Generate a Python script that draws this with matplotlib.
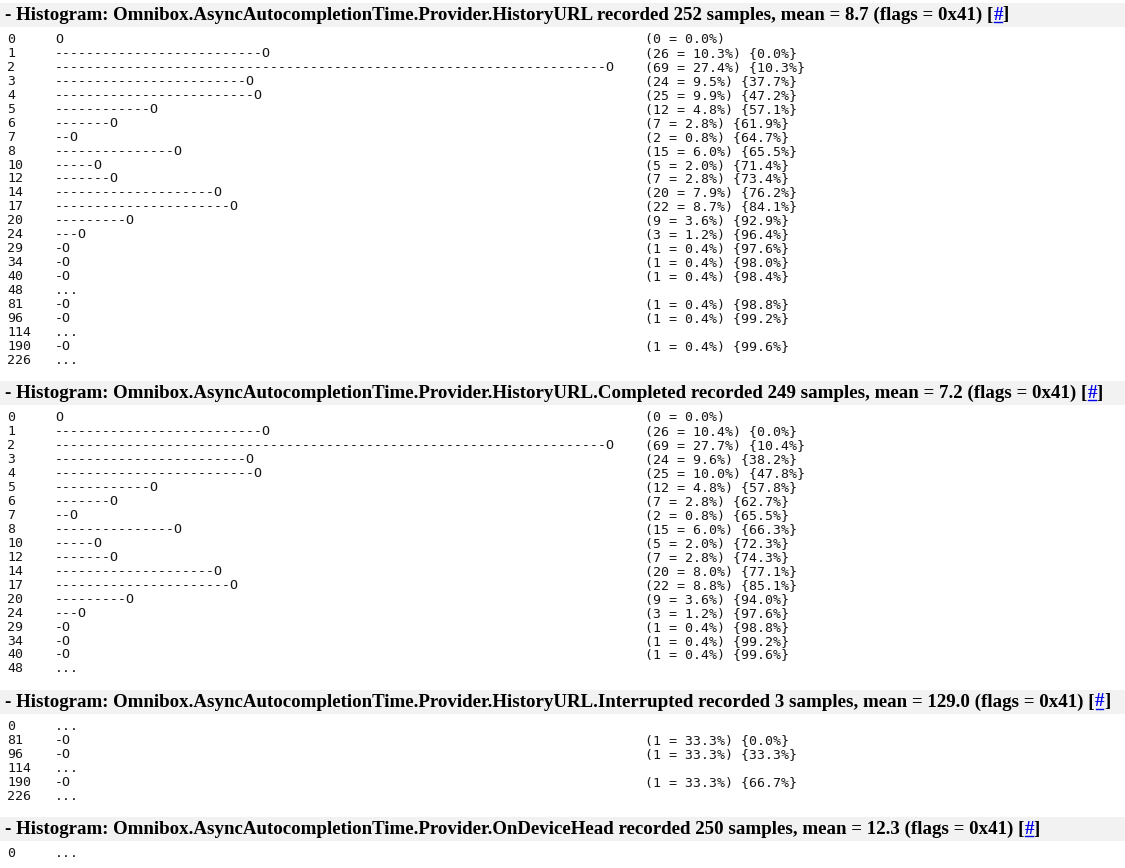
import matplotlib
matplotlib.use("Agg")
import matplotlib.pyplot as plt
from matplotlib.patches import Rectangle

# histogram data as shown on the page (None = "..." row, empty buckets skipped)
h1_name = "Omnibox.AsyncAutocompletionTime.Provider.HistoryURL"
h1_samples = 252
h1_mean = "8.7"
h1_labels = [0, 1, 2, 3, 4, 5, 6, 7, 8, 10, 12, 14, 17, 20, 24, 29, 34, 40, 48, 81, 96, 114, 190, 226]
h1_counts = [0, 26, 69, 24, 25, 12, 7, 2, 15, 5, 7, 20, 22, 9, 3, 1, 1, 1, None, 1, 1, None, 1, None]

h2_name = "Omnibox.AsyncAutocompletionTime.Provider.HistoryURL.Completed"
h2_samples = 249
h2_mean = "7.2"
h2_labels = [0, 1, 2, 3, 4, 5, 6, 7, 8, 10, 12, 14, 17, 20, 24, 29, 34, 40, 48]
h2_counts = [0, 26, 69, 24, 25, 12, 7, 2, 15, 5, 7, 20, 22, 9, 3, 1, 1, 1, None]

h3_name = "Omnibox.AsyncAutocompletionTime.Provider.HistoryURL.Interrupted"
h3_samples = 3
h3_mean = "129.0"
h3_labels = [0, 81, 96, 114, 190, 226]
h3_counts = [None, 1, 1, None, 1, None]

h4_name = "Omnibox.AsyncAutocompletionTime.Provider.OnDeviceHead"
h4_samples = 250
h4_mean = "12.3"
h4_labels = [0]
h4_counts = [None]

W, H = 1125, 868
LINE_LEN = 72
cw = 7.97          # width of one monospace column, px
x0 = 7             # left edge of the label column
row_h = 13.95
mono = dict(family="DejaVu Sans Mono", fontsize=9.55, color="#151515", va="center")
serif = dict(family="Liberation Serif", fontsize=13.6, weight="bold", va="center")

fig = plt.figure(figsize=(W / 100, H / 100), dpi=100)
ax = fig.add_axes([0, 0, 1, 1])
ax.set_xlim(0, W)
ax.set_ylim(H, 0)
ax.axis("off")
renderer = fig.canvas.get_renderer()


def header(y, name, samples, mean):
    ax.add_patch(Rectangle((0, y - 12), W, 24, color="#f2f2f2", lw=0))
    s = f"- Histogram: {name} recorded {samples} samples, mean = {mean} (flags = 0x41) ["
    t = ax.text(5, y, s, **serif)
    x = t.get_window_extent(renderer).x1
    t2 = ax.text(x, y, "#", color="#0000ee", **serif)
    bb = t2.get_window_extent(renderer)
    ax.plot([bb.x0 + 1, bb.x1 - 1], [y + 7, y + 7], color="#0000ee", lw=1)
    ax.text(bb.x1, y, "]", **serif)


def body(y, labels, counts, samples):
    filled = [c for c in counts if c is not None]
    peak = max(filled) if filled else 1
    scale = LINE_LEN / peak if peak > LINE_LEN else 1.0
    past = 0
    for i, (lab, c) in enumerate(zip(labels, counts)):
        yy = y + i * row_h
        ax.text(x0, yy, str(lab), **mono)
        if c is None:
            ax.text(x0 + 6 * cw, yy, "...", **mono)
            continue
        ax.text(x0 + 6 * cw, yy, "-" * int(c * scale) + "O", **mono)
        val = f"({c} = {100 * c / samples:.1f}%)"
        if i > 0:
            val += f" {{{100 * past / samples:.1f}%}}"
        ax.text(x0 + 80 * cw, yy, val, **mono)
        past += c
    return y + (len(labels) - 1) * row_h


sections = [
    (h1_name, h1_samples, h1_mean, h1_labels, h1_counts),
    (h2_name, h2_samples, h2_mean, h2_labels, h2_counts),
    (h3_name, h3_samples, h3_mean, h3_labels, h3_counts),
    (h4_name, h4_samples, h4_mean, h4_labels, h4_counts),
]

y = 15
for name, n, mean, labels, counts in sections:
    header(y, name, n, mean)
    last = body(y + 24.5, labels, counts, n)
    y = last + 33

fig.savefig("out.png", dpi=100, facecolor="white")
